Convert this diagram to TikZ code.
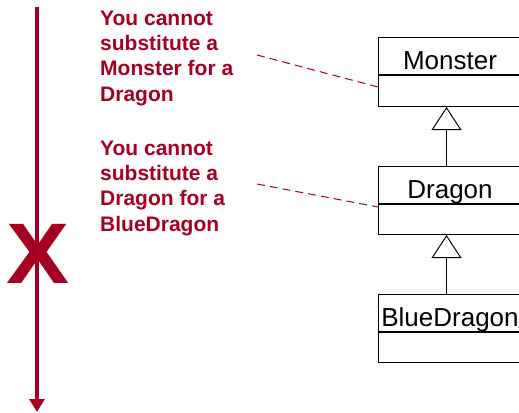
\documentclass[tikz,border=0pt]{standalone}
\usepackage{fontspec}
\setmainfont{Liberation Sans}
\usepackage{xcolor}
\usetikzlibrary{positioning,arrows.meta}

\definecolor{warnred}{RGB}{165,0,33}

\begin{document}
\begin{tikzpicture}[x=1pt,y=-1pt,
	classname/.style={draw,line width=1pt,inner sep=0pt,minimum width=143pt,minimum height=37pt,
		text height=27pt,text depth=0pt,font=\fontsize{26}{30}\selectfont},
	classbody/.style={draw,line width=1pt,inner sep=0pt,minimum width=143pt,minimum height=#1},
	note/.style={anchor=north west,inner sep=0pt,align=left,text=warnred,
		font=\bfseries\fontsize{21}{25.3}\selectfont},
	inherit/.style={line width=1pt,-{Triangle[open,width=30pt,length=23pt]}},
	pointer/.style={warnred,line width=1pt,dash pattern=on 8pt off 5pt}]
	
	\useasboundingbox (0,0) rectangle (519,412);
	\clip (0,0) rectangle (519,412);
	
	% classes
	\node[classname,anchor=north west] (monster) at (378,37) {Monster};
	\node[classbody=31pt,below=0pt of monster] (monsterbody) {};
	\node[classname,anchor=north west] (dragon) at (378,166) {Dragon};
	\node[classbody=30pt,below=0pt of dragon] (dragonbody) {};
	\node[classname,anchor=north west] (blue) at (378,294) {BlueDragon};
	\node[classbody=30pt,below=0pt of blue] (bluebody) {};
	
	\draw[inherit] ([xshift=-3.5pt]dragon.north) -- ([xshift=-3.5pt]monsterbody.south);
	\draw[inherit] ([xshift=-3.5pt]blue.north) -- ([xshift=-3.5pt]dragonbody.south);
	
	% notes
	\node[note] (note1) at (100,10.7) {You cannot\\substitute a\\Monster for a\\Dragon};
	\node[note] (note2) at (100,140.7) {You cannot\\substitute a\\Dragon for a\\BlueDragon};
	
	\coordinate (from1) at (257,55);
	\coordinate (from2) at (257,184);
	\draw[pointer] (from1) -- (monsterbody.west |- 0,87);
	\draw[pointer] (from2) -- (dragonbody.west |- 0,207);
	
	% direction
	\coordinate (down0) at (37,7);
	\coordinate (down1) at (37,412);
	\draw[warnred,line width=4pt,-{Triangle[width=15pt,length=13pt]}] (down0) -- (down1);
	\node[text=warnred,inner sep=0pt,xscale=1.1,font=\bfseries\fontsize{86}{90}\selectfont] (cross) at (38.5,254) {X};
	
\end{tikzpicture}
\end{document}
